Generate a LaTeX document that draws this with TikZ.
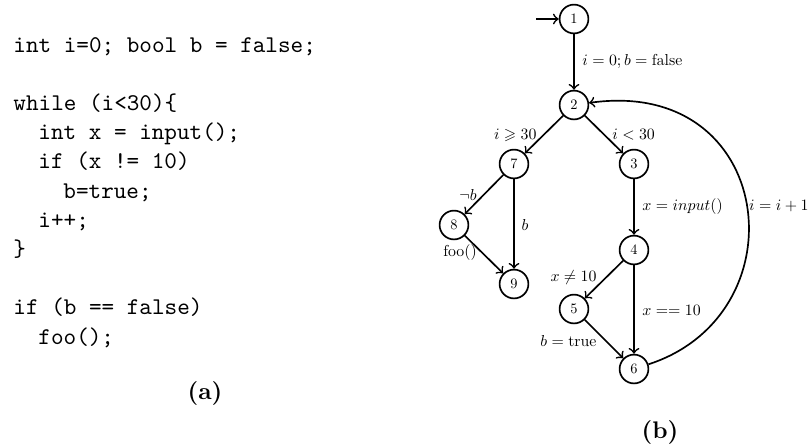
\documentclass[tikz,border=0pt]{standalone}
\usepackage{amssymb}
\usepackage{graphicx}
\newcommand{\lbtxt}[1]{\scalebox{0.66}{$#1$}}
\newcommand{\sttxt}[1]{\scalebox{0.6}{#1}}
\begin{document}
\begin{tikzpicture}[x=0.41667pt,y=-0.41667pt,
  st/.style={circle,draw,line width=0.7pt,minimum size=12pt,inner sep=0pt},
  tr/.style={->,line width=0.7pt},
  lbl/.style={inner sep=0pt},
  code/.style={anchor=base west,font=\ttfamily,inner sep=0pt},
  captext/.style={font=\bfseries,inner sep=0pt}]
\useasboundingbox (0,0) rectangle (811,443);
% code
\node[code] (c1) at (13,52) {int i=0; bool b = false;};
\node[code] (c2) at (13,110.4) {while (i<30)\{};
\node[code] (c3) at (38,139.6) {int x = input();};
\node[code] (c4) at (38,168.8) {if (x != 10)};
\node[code] (c5) at (63,198) {b=true;};
\node[code] (c6) at (38,227.2) {i++;};
\node[code] (c7) at (13,256.4) {\}};
\node[code] (c8) at (13,314.8) {if (b == false)};
\node[code] (c9) at (38,344) {foo();};
\node[captext] (capa) at (205,393) {(a)};
\node[captext] (capb) at (660,432) {(b)};
% graph
\node[st] (n1) at (574,19) {\sttxt{1}};
\node[st] (n2) at (574,105) {\sttxt{2}};
\node[st] (n7) at (514,164) {\sttxt{7}};
\node[st] (n3) at (634,164) {\sttxt{3}};
\node[st] (n8) at (454,225) {\sttxt{8}};
\node[st] (n9) at (514,284) {\sttxt{9}};
\node[st] (n4) at (634,250) {\sttxt{4}};
\node[st] (n5) at (574,309) {\sttxt{5}};
\node[st] (n6) at (634,369) {\sttxt{6}};
\coordinate (start) at (536,19);
\draw[tr] (start) -- (n1);
\draw[tr] (n1) -- (n2);
\draw[tr] (n2) -- (n7);
\draw[tr] (n2) -- (n3);
\draw[tr] (n7) -- (n8);
\draw[tr] (n7) -- (n9);
\draw[tr] (n8) -- (n9);
\draw[tr] (n3) -- (n4);
\draw[tr] (n4) -- (n5);
\draw[tr] (n4) -- (n6);
\draw[tr] (n5) -- (n6);
\draw[tr] (n6) to[out=18,in=8,out looseness=1.55,in looseness=1.8] (n2);
% labels
\node[lbl,anchor=west] (l12) at (582,62) {\lbtxt{i=0; b=\mathrm{false}}};
\node[lbl,anchor=east] (l27) at (537,135) {\lbtxt{i \geqslant 30}};
\node[lbl,anchor=west] (l23) at (612,135) {\lbtxt{i<30}};
\node[lbl] (l78) at (468,195) {\lbtxt{\neg b}};
\node[lbl] (l79) at (525,225) {\lbtxt{b}};
\node[lbl] (l89) at (460,253) {\lbtxt{\mathrm{foo}()}};
\node[lbl,anchor=west] (l34) at (642,207) {\lbtxt{x=input()}};
\node[lbl,anchor=east] (l45) at (597,278) {\lbtxt{x \neq 10}};
\node[lbl,anchor=west] (l46) at (642,310) {\lbtxt{x == 10}};
\node[lbl,anchor=east] (l56) at (597,341) {\lbtxt{b=\mathrm{true}}};
\node[lbl,anchor=east] (l62) at (809,206) {\lbtxt{i=i+1}};
\end{tikzpicture}
\end{document}
